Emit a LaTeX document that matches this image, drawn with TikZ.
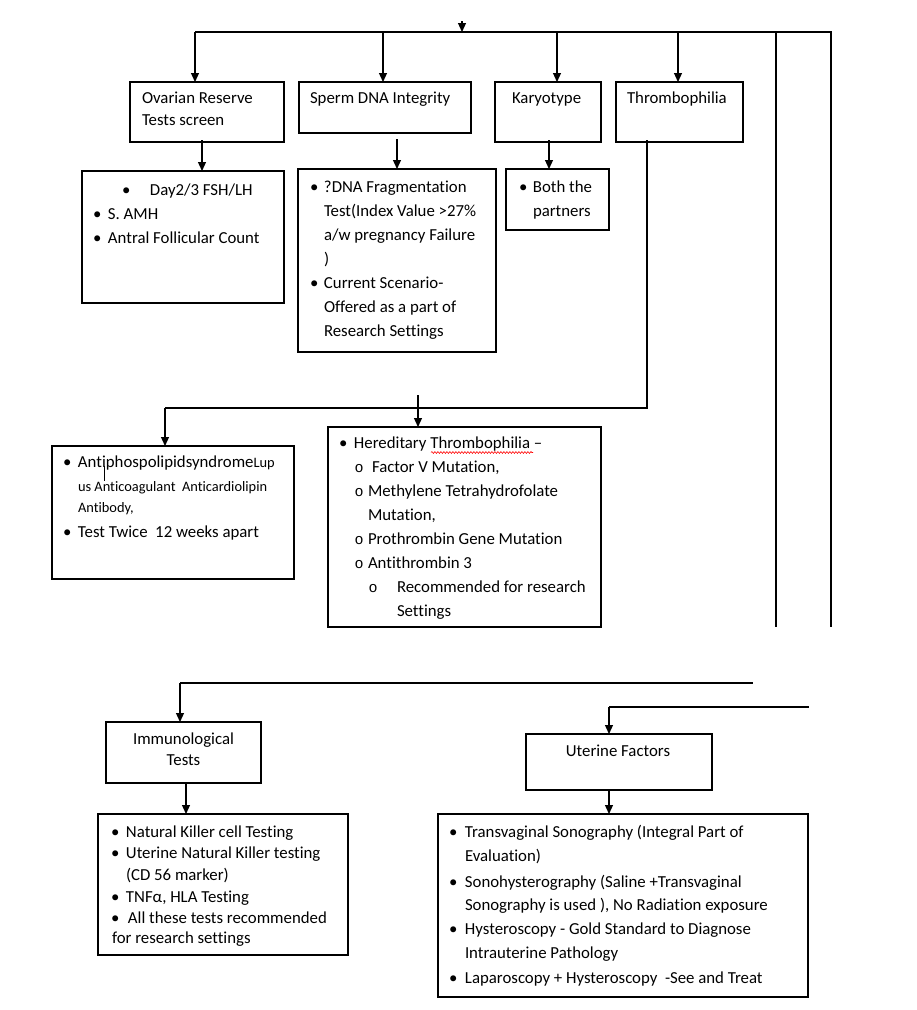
\documentclass[tikz,border=0pt]{standalone}
\usepackage{fontspec}
\setmainfont{Carlito}[Ligatures={NoCommon,NoContextual}]
\newfontfamily\monofnt{Liberation Mono}
\usetikzlibrary{arrows.meta,decorations.pathmorphing}
\newcommand\fnt{\fontsize{16.8}{24}\selectfont}
\newcommand\sfnt{\fontsize{14.4}{20}\selectfont}
\newcommand\bul[1]{\makebox[#1pt][l]{•}}
\newcommand\cir[1]{\makebox[#1pt][l]{\monofnt\fontsize{15}{20}\selectfont o}}
\newcommand\bx[5]{\node[box, minimum width={(#4-#2)*1pt}, minimum height={(#5-#3)*1pt}] (#1) at (#2,#3) {};}
\begin{document}
\begin{tikzpicture}[x=1pt,y=-1pt,
  box/.style={draw, line width=1.2pt, anchor=north west, inner sep=0pt, outer sep=0pt},
  txt/.style={anchor=base west, inner sep=0pt, outer sep=0pt, font=\fnt},
  ctxt/.style={anchor=base, inner sep=0pt, outer sep=0pt, font=\fnt},
  arr/.style={line width=1.2pt, -{Triangle[length=9pt,width=8pt]}},
  ln/.style={line width=1.2pt}]
\useasboundingbox[fill=white] (0,0) rectangle (917,1010);

% ---------- boxes ----------
\bx{ovr}{130}{82}{284}{142}
\bx{spm}{299}{82}{471}{133}
\bx{kar}{495}{82}{601}{142}
\bx{thr}{616}{82}{743}{142}
\bx{ovrS}{82}{171}{284}{303}
\bx{spmS}{298}{169}{496}{352}
\bx{karS}{506}{169}{609}{230}
\bx{aps}{52}{446}{294}{579}
\bx{her}{328}{427}{601}{627}
\bx{imm}{106}{722}{261}{783}
\bx{immS}{98}{814}{348}{955}
\bx{ute}{526}{734}{712}{790}
\bx{uteS}{438}{814}{808}{997}

% ---------- top bus ----------
\coordinate (t0) at (462,21);
\coordinate (bm) at (462,32);
\coordinate (b1) at (195,32);
\coordinate (b2) at (383,32);
\coordinate (b3) at (557,32);
\coordinate (b4) at (678,32);
\coordinate (b5) at (776,32);
\coordinate (b6) at (831,32);
\coordinate (e5) at (776,627);
\coordinate (e6) at (831,627);
\draw[arr] (t0) -- (bm);
\draw[ln] (b1) -- (b6) -- (e6);
\draw[ln] (b5) -- (e5);
\draw[arr] (b1) -- (b1 |- ovr.north);
\draw[arr] (b2) -- (b2 |- spm.north);
\draw[arr] (b3) -- (b3 |- kar.north);
\draw[arr] (b4) -- (b4 |- thr.north);

% ---------- second level ----------
\draw[arr] ([xshift=-5pt,yshift=2pt]ovr.south) -- ([xshift=-5pt]ovr.south |- ovrS.north);
\draw[arr] ([xshift=12pt,yshift=-6pt]spm.south) -- ([xshift=12pt]spm.south |- spmS.north);
\draw[arr] ([xshift=1pt,yshift=2pt]kar.south) -- ([xshift=1pt]kar.south |- karS.north);

% ---------- thrombophilia branch ----------
\coordinate (t1) at (647,408);
\coordinate (t2) at (165,408);
\coordinate (t3) at (418,395);
\draw[ln] ([xshift=-32.5pt,yshift=2pt]thr.south) -- (t1) -- (t2);
\draw[arr] (t2) -- (t2 |- aps.north);
\draw[arr] (t3) -- (t3 |- her.north);

% ---------- bottom branches ----------
\coordinate (c5) at (180,683);
\coordinate (c5e) at (753,683);
\coordinate (c6) at (609,707);
\coordinate (c6e) at (809,707);
\draw[ln] (c5) -- (c5e);
\draw[ln] (c6) -- (c6e);
\draw[arr] (c5) -- (c5 |- imm.north);
\draw[arr] (c6) -- (c6 |- ute.north);
\draw[arr] ([xshift=2.5pt]imm.south) -- ([xshift=2.5pt]imm.south |- immS.north);
\draw[arr] ([xshift=-10pt]ute.south) -- ([xshift=-10pt]ute.south |- uteS.north);

% ---------- header texts ----------
\node[txt] (ovr1) at (142,103) {Ovarian Reserve};
\node[txt] (ovr2) at (142,125) {Tests screen};
\node[txt] (spm1) at (310,103) {Sperm DNA Integrity};
\node[txt] (kar1) at (512,103) {Karyotype};
\node[txt] (thr1) at (627,103) {Thrombophilia};

% ---------- ovarian reserve list ----------
\node[txt] (o1) at (122,195) {\bul{28}Day2/3 FSH/LH};
\node[txt] (o2) at (93,219) {\bul{15}S. AMH};
\node[txt] (o3) at (93,243) {\bul{15}Antral Follicular Count};

% ---------- sperm list ----------
\node[txt] (s1) at (310,192) {\bul{14}?DNA Fragmentation};
\node[txt] (s2) at (324,216) {Test(Index Value >27\%};
\node[txt] (s3) at (324,240) {a/w pregnancy Failure};
\node[txt] (s4) at (324,264) {)};
\node[txt] (s5) at (310,288) {\bul{14}Current Scenario-};
\node[txt] (s6) at (324,312) {Offered as a part of};
\node[txt] (s7) at (324,336) {Research Settings};

% ---------- karyotype list ----------
\node[txt] (k1) at (519,192) {\bul{14}Both the};
\node[txt] (k2) at (533,216) {partners};

% ---------- APS ----------
\node[txt] (a1) at (63,467) {\bul{15}Antiphospolipidsyndrome{\sfnt Lup}};
\node[txt, font=\sfnt] (a2) at (78,491) {us Anticoagulant\ \ Anticardiolipin};
\node[txt, font=\sfnt] (a3) at (78,512) {Antibody,};
\node[txt] (a4) at (63,537) {\bul{15}Test Twice\ \ 12 weeks apart};
\draw[line width=1pt] (104,466) -- (104,481);

% ---------- hereditary ----------
\node[txt] (h1) at (339,448) {\bul{15}Hereditary Thrombophilia –};
\draw[red, line width=0.6pt, decorate, decoration={snake, amplitude=0.9pt, segment length=3pt}] (431,452.5) -- (533,452.5);
\node[txt] (h2) at (354.5,472) {\cir{17.5}Factor V Mutation,};
\node[txt] (h3) at (354.5,496) {\cir{13.5}Methylene Tetrahydrofolate};
\node[txt] (h4) at (368,520) {Mutation,};
\node[txt] (h5) at (354.5,544) {\cir{13.5}Prothrombin Gene Mutation};
\node[txt] (h6) at (354.5,568) {\cir{13.5}Antithrombin 3};
\node[txt] (h7) at (368.5,592) {\cir{28.5}Recommended for research};
\node[txt] (h8) at (397,616) {Settings};

% ---------- immunological ----------
\node[ctxt] (im1) at (183.5,744) {Immunological};
\node[ctxt] (im2) at (183.5,765) {Tests};
\node[txt] (i1) at (111,837) {\bul{15}Natural Killer cell Testing};
\node[txt] (i2) at (111,858) {\bul{15}Uterine Natural Killer testing};
\node[txt] (i3) at (126,880) {(CD 56 marker)};
\node[txt] (i4) at (111,902) {\bul{15}TNFα, HLA Testing};
\node[txt] (i5) at (111,923) {\bul{17}All these tests recommended};
\node[txt] (i6) at (112,943) {for research settings};

% ---------- uterine ----------
\node[ctxt] (ut1) at (618,756) {Uterine Factors};
\node[txt] (u1) at (449,837) {\bul{16}Transvaginal Sonography (Integral Part of};
\node[txt] (u2) at (465,861) {Evaluation)};
\node[txt] (u3) at (449,887) {\bul{16}Sonohysterography (Saline +Transvaginal};
\node[txt] (u4) at (465,910) {Sonography is used ), No Radiation exposure};
\node[txt] (u5) at (449,934) {\bul{16}Hysteroscopy - Gold Standard to Diagnose};
\node[txt] (u6) at (465,958) {Intrauterine Pathology};
\node[txt] (u7) at (449,983) {\bul{16}Laparoscopy + Hysteroscopy\ \ -See and Treat};
\end{tikzpicture}
\end{document}
